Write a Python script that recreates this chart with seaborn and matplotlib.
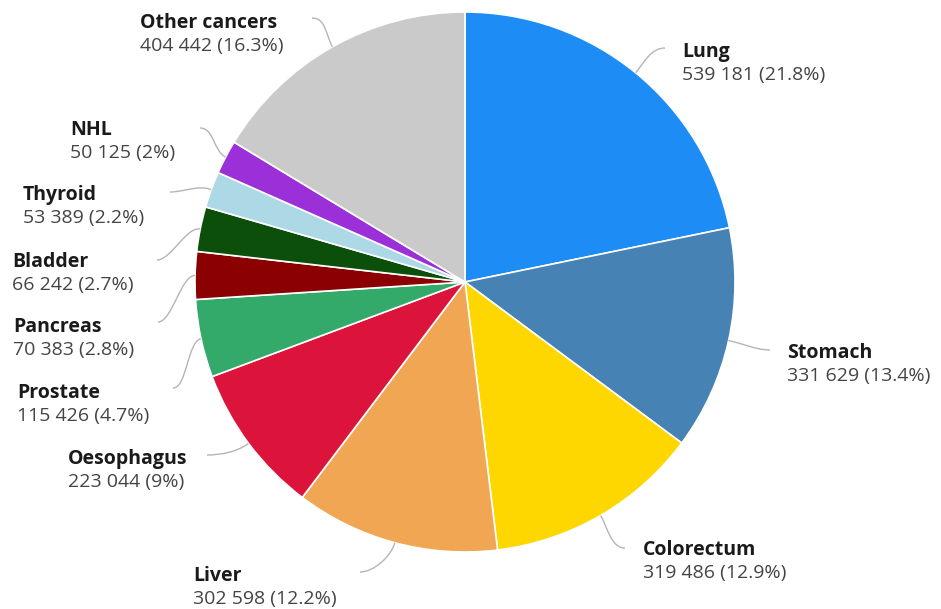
import matplotlib
matplotlib.use("Agg")
import matplotlib.pyplot as plt
from matplotlib.path import Path
from matplotlib.patches import PathPatch
import numpy as np
import seaborn as sns

# Cancer deaths by site
sites = ["Lung", "Stomach", "Colorectum", "Liver", "Oesophagus", "Prostate",
         "Pancreas", "Bladder", "Thyroid", "NHL", "Other cancers"]
deaths = [539181, 331629, 319486, 302598, 223044, 115426,
          70383, 66242, 53389, 50125, 404442]
colors = ["#1E8CF5", "#4682B4", "#FFD700", "#F0A652", "#DC143C", "#33A96A",
          "#8B0000", "#0B4F0B", "#ADD8E6", "#9B30D9", "#CACACA"]

# label text position (left, bold-line centre) and leader end point, in pixels
label_pos = [(682, 52), (787, 353), (643, 550), (193, 576), (68, 459), (17, 393),
             (13, 327), (12, 262), (23, 195), (70, 130), (140, 23)]
leader_end = [(665, 48), (770, 350), (625, 548), (360, 572), (207, 455), (173, 388),
              (158, 322), (157, 260), (170, 192), (200, 128), (312, 18)]

sns.set_theme(style="white")
plt.rcParams["font.family"] = ["Open Sans", "DejaVu Sans"]

W, H = 941, 609
fig = plt.figure(figsize=(W / 100, H / 100), dpi=100)
ax = fig.add_axes([0, 0, 1, 1])

cx, cy, r = 465, 282, 270
ax.pie(deaths, colors=colors, startangle=90, counterclock=False,
       center=(cx, H - cy), radius=r,
       wedgeprops=dict(edgecolor="white", linewidth=1.2))
ax.set_xlim(0, W)
ax.set_ylim(0, H)
ax.set_aspect("equal")
ax.axis("off")

total = sum(deaths)
cum = 0.0
for name, v, (tx, ty), (ex, ey) in zip(sites, deaths, label_pos, leader_end):
    mid = (cum + v / 2) / total * 2 * np.pi
    cum += v
    dx, dy = np.sin(mid), np.cos(mid)
    p0 = (cx + r * dx, H - (cy - r * dy))
    p1 = (cx + (r + 14) * dx, H - (cy - (r + 14) * dy))
    side = 1 if ex > cx else -1
    p3 = (ex, H - ey)
    p2 = (ex - side * 14, H - ey)
    path = Path([p0, p1, p2, p3], [Path.MOVETO, Path.CURVE4, Path.CURVE4, Path.CURVE4])
    ax.add_patch(PathPatch(path, facecolor="none", edgecolor="#B5B5B5", lw=1.0))

    pct = round(v / total * 100, 1)
    pct_txt = f"{pct:g}"
    num_txt = f"{v:,}".replace(",", " ")
    ax.text(tx, H - ty, name, fontsize=14, fontweight="bold", color="#1A1A1A",
            ha="left", va="center")
    ax.text(tx, H - ty - 23, f"{num_txt} ({pct_txt}%)", fontsize=14,
            color="#444444", ha="left", va="center")

fig.savefig("out.png", dpi=100, facecolor="white")
